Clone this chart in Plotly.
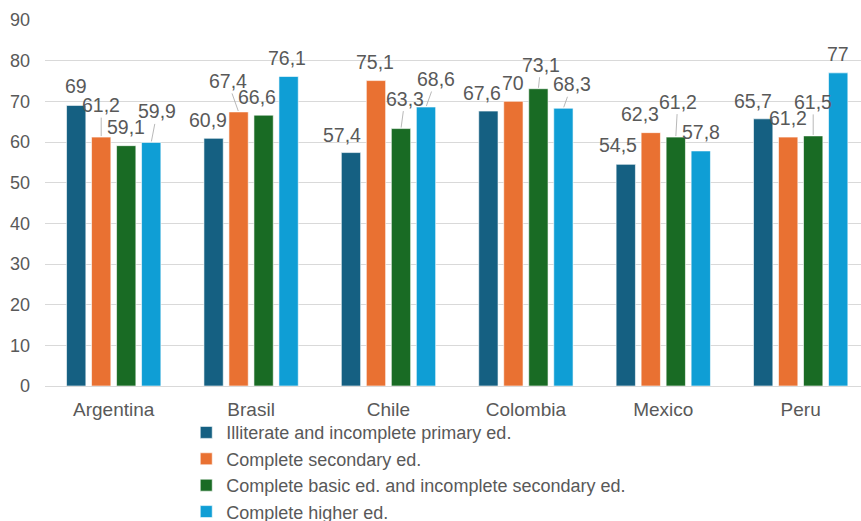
import plotly.graph_objects as go

# Share of respondents by education level, per country
countries = ["Argentina", "Brasil", "Chile", "Colombia", "Mexico", "Peru"]
series_names = [
    "Illiterate and incomplete primary ed.",
    "Complete secondary ed.",
    "Complete basic ed. and incomplete secondary ed.",
    "Complete higher ed.",
]
illiterate_primary = [69, 60.9, 57.4, 67.6, 54.5, 65.7]
complete_secondary = [61.2, 67.4, 75.1, 70, 62.3, 61.2]
basic_incomplete_secondary = [59.1, 66.6, 63.3, 73.1, 61.2, 61.5]
complete_higher = [59.9, 76.1, 68.6, 68.3, 57.8, 77]
y_ticks = [0, 10, 20, 30, 40, 50, 60, 70, 80, 90]

series_values = [illiterate_primary, complete_secondary,
                 basic_incomplete_secondary, complete_higher]
colors = ["#156082", "#E97132", "#196B24", "#0F9ED5"]

# label placement (pixel offset from bar top) and whether a leader line is drawn
label_offsets = [
    [(-0.5, -19, False), (-6, -18, False), (-8.5, -18, False), (-6, -18, False), (-8, -19, False), (-10.5, -18, False)],
    [(0, -32, True), (-11, -31, True), (-0.5, -19, False), (0, -18, False), (-11, -19, False), (0, -19, False)],
    [(0, -19, False), (-7, -18.5, False), (4, -30, True), (2.5, -24, True), (2, -35.5, True), (0, -34, True)],
    [(6, -31, True), (-1.5, -18.5, False), (10, -28, True), (8.5, -24, True), (0, -18.5, False), (0, -19, False)],
]

FONT = "Liberation Sans, Arial, sans-serif"
TEXT_COLOR = "#595959"
BARGAP = 0.272


def fmt(v):
    s = ("%g" % v)
    return s.replace(".", ",")


fig = go.Figure()
for name, vals, col in zip(series_names, series_values, colors):
    fig.add_trace(go.Bar(
        x=countries, y=vals, name=name,
        marker=dict(color=col, line=dict(color="white", width=0.6)),
    ))

slot = (1 - BARGAP) / len(series_values)
annotations = []
for si, vals in enumerate(series_values):
    off = (si - (len(series_values) - 1) / 2) * slot
    for ci, v in enumerate(vals):
        dx, dy, leader = label_offsets[si][ci]
        common = dict(
            x=ci + off, y=v, xref="x", yref="y", text=fmt(v),
            font=dict(family=FONT, size=19.5, color=TEXT_COLOR),
        )
        if leader:
            annotations.append(dict(
                **common, showarrow=True, arrowhead=0, arrowwidth=0.8,
                arrowcolor="#a6a6a6", ax=dx, ay=dy, standoff=1,
            ))
        else:
            annotations.append(dict(
                **common, showarrow=False, xshift=dx, yshift=-dy,
            ))

fig.update_layout(
    width=861, height=521,
    margin=dict(l=45, r=0, t=20, b=135, autoexpand=False),
    paper_bgcolor="white", plot_bgcolor="white",
    barmode="group", bargap=BARGAP, bargroupgap=0.228,
    font=dict(family=FONT, size=19, color=TEXT_COLOR),
    annotations=annotations,
    showlegend=True,
    legend=dict(
        orientation="v", x=0.1731, xanchor="left", y=-0.077, yanchor="top",
        font=dict(family=FONT, size=18, color=TEXT_COLOR),
        itemwidth=30, tracegroupgap=0, bgcolor="rgba(0,0,0,0)",
    ),
    xaxis=dict(
        type="category", range=[-0.5, 5.439], showgrid=False,
        showline=True, linecolor="#d9d9d9", linewidth=1,
        ticks="", ticklabelstandoff=6,
        tickfont=dict(family=FONT, size=19, color=TEXT_COLOR),
    ),
    yaxis=dict(
        range=[0, 90], tickvals=y_ticks, showgrid=True,
        gridcolor="#d9d9d9", gridwidth=1, zeroline=False,
        showline=False, ticks="", ticklabelstandoff=14,
        tickfont=dict(family=FONT, size=18, color=TEXT_COLOR),
    ),
)

fig.write_html("out.html")
